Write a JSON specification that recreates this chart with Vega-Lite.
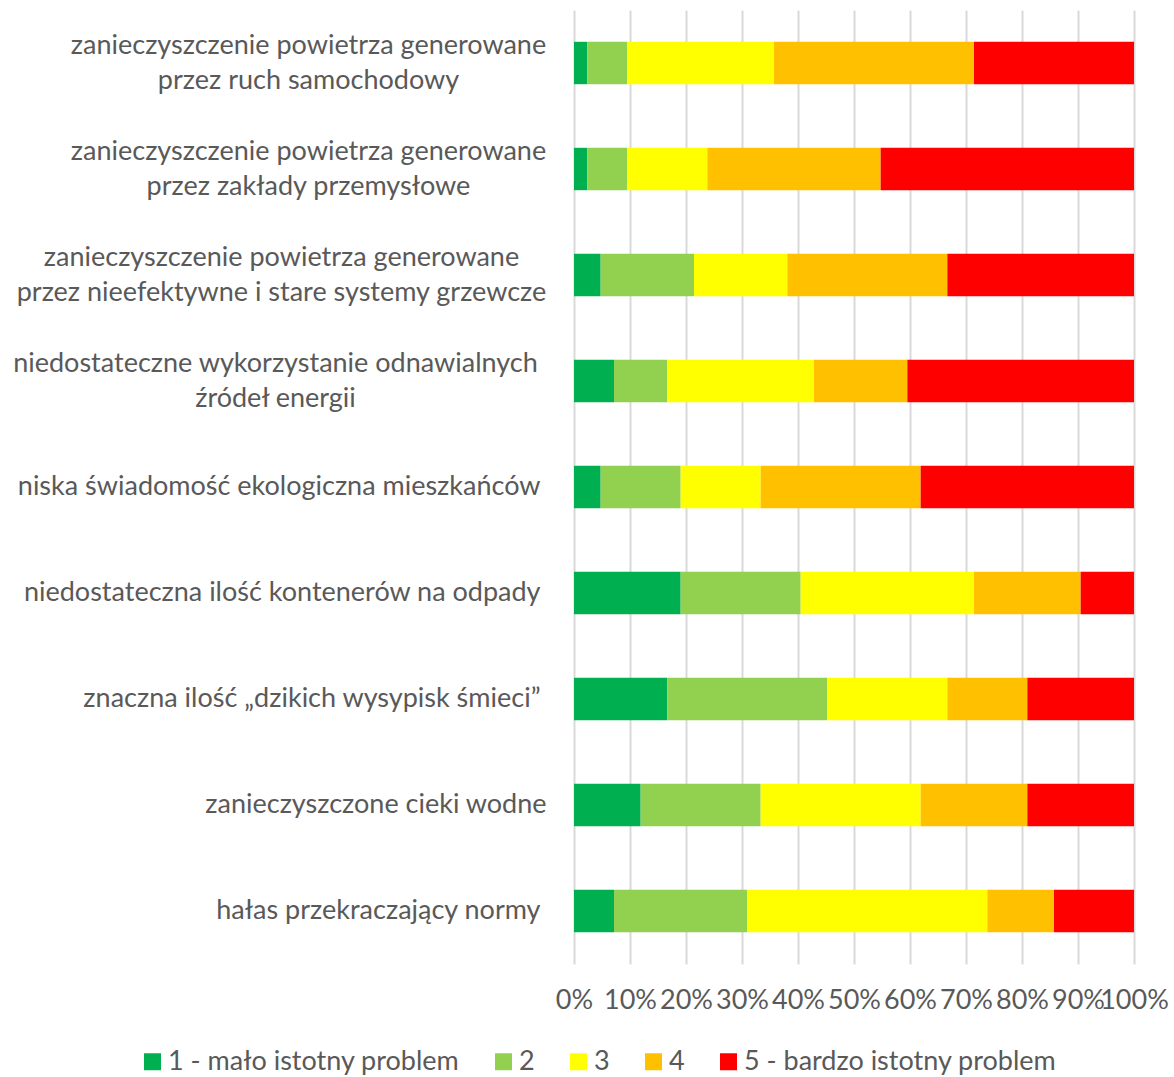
{
  "$schema": "https://vega.github.io/schema/vega-lite/v6.json",
  "width": 560,
  "height": 954,
  "autosize": "none",
  "padding": {"left": 574, "top": 10, "right": 40, "bottom": 113},
  "background": "white",
  "config": {
    "font": "Lato",
    "view": {"stroke": null},
    "axis": {"labelColor": "#595959", "labelFont": "Lato", "labelFontSize": 27}
  },
  "data": {
    "values": [
      {"item": "zanieczyszczenie powietrza generowane|przez ruch samochodowy", "level": "1 - mało istotny problem", "count": 1},
      {"item": "zanieczyszczenie powietrza generowane|przez ruch samochodowy", "level": "2", "count": 3},
      {"item": "zanieczyszczenie powietrza generowane|przez ruch samochodowy", "level": "3", "count": 11},
      {"item": "zanieczyszczenie powietrza generowane|przez ruch samochodowy", "level": "4", "count": 15},
      {"item": "zanieczyszczenie powietrza generowane|przez ruch samochodowy", "level": "5 - bardzo istotny problem", "count": 12},
      {"item": "zanieczyszczenie powietrza generowane|przez zakłady przemysłowe", "level": "1 - mało istotny problem", "count": 1},
      {"item": "zanieczyszczenie powietrza generowane|przez zakłady przemysłowe", "level": "2", "count": 3},
      {"item": "zanieczyszczenie powietrza generowane|przez zakłady przemysłowe", "level": "3", "count": 6},
      {"item": "zanieczyszczenie powietrza generowane|przez zakłady przemysłowe", "level": "4", "count": 13},
      {"item": "zanieczyszczenie powietrza generowane|przez zakłady przemysłowe", "level": "5 - bardzo istotny problem", "count": 19},
      {"item": "zanieczyszczenie powietrza generowane|przez nieefektywne i stare systemy grzewcze", "level": "1 - mało istotny problem", "count": 2},
      {"item": "zanieczyszczenie powietrza generowane|przez nieefektywne i stare systemy grzewcze", "level": "2", "count": 7},
      {"item": "zanieczyszczenie powietrza generowane|przez nieefektywne i stare systemy grzewcze", "level": "3", "count": 7},
      {"item": "zanieczyszczenie powietrza generowane|przez nieefektywne i stare systemy grzewcze", "level": "4", "count": 12},
      {"item": "zanieczyszczenie powietrza generowane|przez nieefektywne i stare systemy grzewcze", "level": "5 - bardzo istotny problem", "count": 14},
      {"item": "niedostateczne wykorzystanie odnawialnych |źródeł energii", "level": "1 - mało istotny problem", "count": 3},
      {"item": "niedostateczne wykorzystanie odnawialnych |źródeł energii", "level": "2", "count": 4},
      {"item": "niedostateczne wykorzystanie odnawialnych |źródeł energii", "level": "3", "count": 11},
      {"item": "niedostateczne wykorzystanie odnawialnych |źródeł energii", "level": "4", "count": 7},
      {"item": "niedostateczne wykorzystanie odnawialnych |źródeł energii", "level": "5 - bardzo istotny problem", "count": 17},
      {"item": "niska świadomość ekologiczna mieszkańców ", "level": "1 - mało istotny problem", "count": 2},
      {"item": "niska świadomość ekologiczna mieszkańców ", "level": "2", "count": 6},
      {"item": "niska świadomość ekologiczna mieszkańców ", "level": "3", "count": 6},
      {"item": "niska świadomość ekologiczna mieszkańców ", "level": "4", "count": 12},
      {"item": "niska świadomość ekologiczna mieszkańców ", "level": "5 - bardzo istotny problem", "count": 16},
      {"item": "niedostateczna ilość kontenerów na odpady ", "level": "1 - mało istotny problem", "count": 8},
      {"item": "niedostateczna ilość kontenerów na odpady ", "level": "2", "count": 9},
      {"item": "niedostateczna ilość kontenerów na odpady ", "level": "3", "count": 13},
      {"item": "niedostateczna ilość kontenerów na odpady ", "level": "4", "count": 8},
      {"item": "niedostateczna ilość kontenerów na odpady ", "level": "5 - bardzo istotny problem", "count": 4},
      {"item": "znaczna ilość „dzikich wysypisk śmieci” ", "level": "1 - mało istotny problem", "count": 7},
      {"item": "znaczna ilość „dzikich wysypisk śmieci” ", "level": "2", "count": 12},
      {"item": "znaczna ilość „dzikich wysypisk śmieci” ", "level": "3", "count": 9},
      {"item": "znaczna ilość „dzikich wysypisk śmieci” ", "level": "4", "count": 6},
      {"item": "znaczna ilość „dzikich wysypisk śmieci” ", "level": "5 - bardzo istotny problem", "count": 8},
      {"item": "zanieczyszczone cieki wodne", "level": "1 - mało istotny problem", "count": 5},
      {"item": "zanieczyszczone cieki wodne", "level": "2", "count": 9},
      {"item": "zanieczyszczone cieki wodne", "level": "3", "count": 12},
      {"item": "zanieczyszczone cieki wodne", "level": "4", "count": 8},
      {"item": "zanieczyszczone cieki wodne", "level": "5 - bardzo istotny problem", "count": 8},
      {"item": "hałas przekraczający normy ", "level": "1 - mało istotny problem", "count": 3},
      {"item": "hałas przekraczający normy ", "level": "2", "count": 10},
      {"item": "hałas przekraczający normy ", "level": "3", "count": 18},
      {"item": "hałas przekraczający normy ", "level": "4", "count": 5},
      {"item": "hałas przekraczający normy ", "level": "5 - bardzo istotny problem", "count": 6}
    ]
  },
  "mark": {"type": "bar"},
  "encoding": {
    "y": {
      "field": "item",
      "type": "nominal",
      "sort": null,
      "scale": {"paddingInner": 0.6, "paddingOuter": 0.3},
      "axis": {
        "title": null,
        "ticks": false,
        "domain": false,
        "labelLimit": 0,
        "labelLineHeight": 35,
        "labelAlign": {"expr": "indexof(datum.value, '|') >= 0 ? 'center' : 'right'"},
        "labelPadding": {"expr": "indexof(datum.value, 'generowane|przez ruch') >= 0 || indexof(datum.value, 'zakłady') >= 0 ? 266 : indexof(datum.value, 'grzewcze') >= 0 ? 293 : indexof(datum.value, 'odnawialnych') >= 0 ? 299 : (substring(datum.value, length(datum.value) - 1) == ' ' ? 34 : 28)"},
        "labelOffset": {"expr": "indexof(datum.value, '|') >= 0 ? -17.5 : 0"},
        "labelExpr": "split(datum.label, '|')"
      }
    },
    "x": {
      "field": "count",
      "type": "quantitative",
      "stack": "normalize",
      "scale": {"domain": [0, 1]},
      "axis": {
        "title": null,
        "format": ".0%",
        "values": [0, 0.1, 0.2, 0.3, 0.4, 0.5, 0.6, 0.7, 0.8, 0.9, 1],
        "ticks": false,
        "domain": false,
        "grid": true,
        "gridColor": "#d9d9d9",
        "gridWidth": 2,
        "labelPadding": 23,
        "labelFlush": false,
        "labelOverlap": false
      }
    },
    "color": {
      "field": "level",
      "type": "nominal",
      "scale": {
        "domain": ["1 - mało istotny problem", "2", "3", "4", "5 - bardzo istotny problem"],
        "range": ["#00B050", "#92D050", "#FFFF00", "#FFC000", "#FF0000"]
      },
      "legend": {
        "title": null,
        "orient": "none",
        "direction": "horizontal",
        "columns": 5,
        "legendX": -435,
        "legendY": 1038,
        "symbolType": "square",
        "symbolSize": 289,
        "symbolStrokeWidth": 0,
        "symbolOpacity": 1,
        "labelFontSize": 27,
        "labelColor": "#595959",
        "labelFont": "Lato",
        "labelOffset": 2,
        "columnPadding": 30,
        "labelLimit": 0
      }
    }
  }
}
